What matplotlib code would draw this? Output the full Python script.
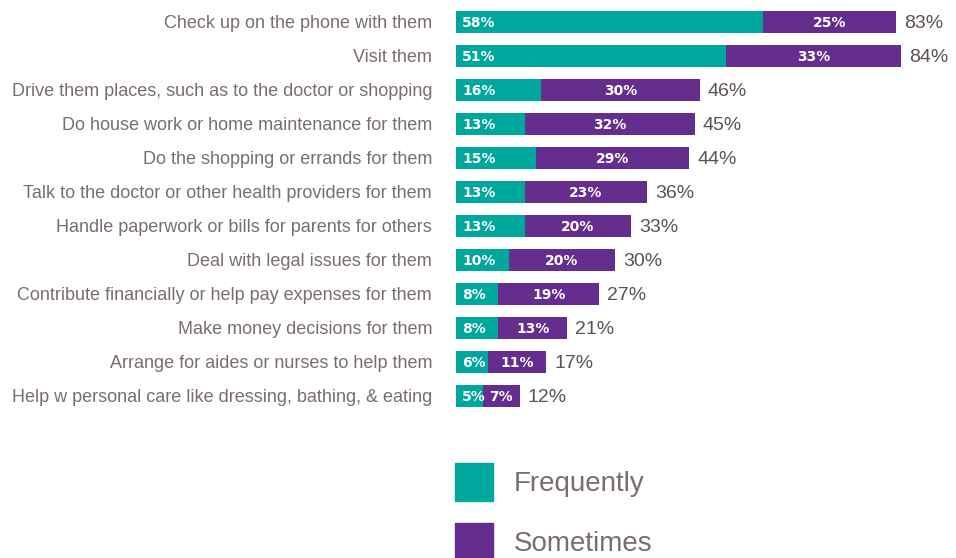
import matplotlib.pyplot as plt
from matplotlib.patches import Rectangle

# Αντιγραφή δεδομένων από το γράφημα
tasks = [
    "Check up on the phone with them",
    "Visit them",
    "Drive them places, such as to the doctor or shopping",
    "Do house work or home maintenance for them",
    "Do the shopping or errands for them",
    "Talk to the doctor or other health providers for them",
    "Handle paperwork or bills for parents for others",
    "Deal with legal issues for them",
    "Contribute financially or help pay expenses for them",
    "Make money decisions for them",
    "Arrange for aides or nurses to help them",
    "Help w personal care like dressing, bathing, & eating",
]
frequently = [58, 51, 16, 13, 15, 13, 13, 10, 8, 8, 6, 5]
sometimes = [25, 33, 30, 32, 29, 23, 20, 20, 19, 13, 11, 7]
totals = [83, 84, 46, 45, 44, 36, 33, 30, 27, 21, 17, 12]

teal = "#00A79D"
purple = "#652D8E"
grey = "#7A6E6B"
dark = "#5C5250"

plt.rcParams['font.family'] = ['Liberation Sans', 'DejaVu Sans']

W, H = 956, 558
fig = plt.figure(figsize=(W / 100, H / 100), dpi=100)

# άξονας των ράβδων, σε συντεταγμένες pixel
left, right, top, bottom = 456, 956, 5, 413
ax = fig.add_axes([left / W, 1 - bottom / H, (right - left) / W, (bottom - top) / H])
ax.set_xlim(0, (right - left) / 5.3)
ax.set_ylim(len(tasks) - 0.5, -0.5)
ax.axis("off")

y = list(range(len(tasks)))
ax.barh(y, frequently, height=0.65, color=teal)
ax.barh(y, sometimes, left=frequently, height=0.65, color=purple)

for i in y:
    f, s, t = frequently[i], sometimes[i], totals[i]
    ax.text(1.2, i + 0.03, f"{f}%", color="white", fontsize=10, fontweight="bold",
            ha="left", va="center", family="DejaVu Sans")
    ax.text(f + s / 2, i + 0.03, f"{s}%", color="white", fontsize=10, fontweight="bold",
            ha="center", va="center", family="DejaVu Sans")
    ax.text(f + s + 1.5, i + 0.03, f"{t}%", color=dark, fontsize=14,
            ha="left", va="center")
    fig.text(432 / W, 1 - (23 + 34 * i) / H, tasks[i], color=grey, fontsize=13,
             ha="right", va="center")

# υπόμνημα
for k, (name, col) in enumerate([("Frequently", teal), ("Sometimes", purple)]):
    y0 = 463 + 60 * k
    fig.add_artist(Rectangle((455 / W, 1 - (y0 + 38) / H), 38 / W, 38 / H,
                             transform=fig.transFigure, color=col))
    fig.text(514 / W, 1 - (y0 + 21) / H, name, color=grey, fontsize=20,
             ha="left", va="center")

fig.savefig("out.png", dpi=100)
